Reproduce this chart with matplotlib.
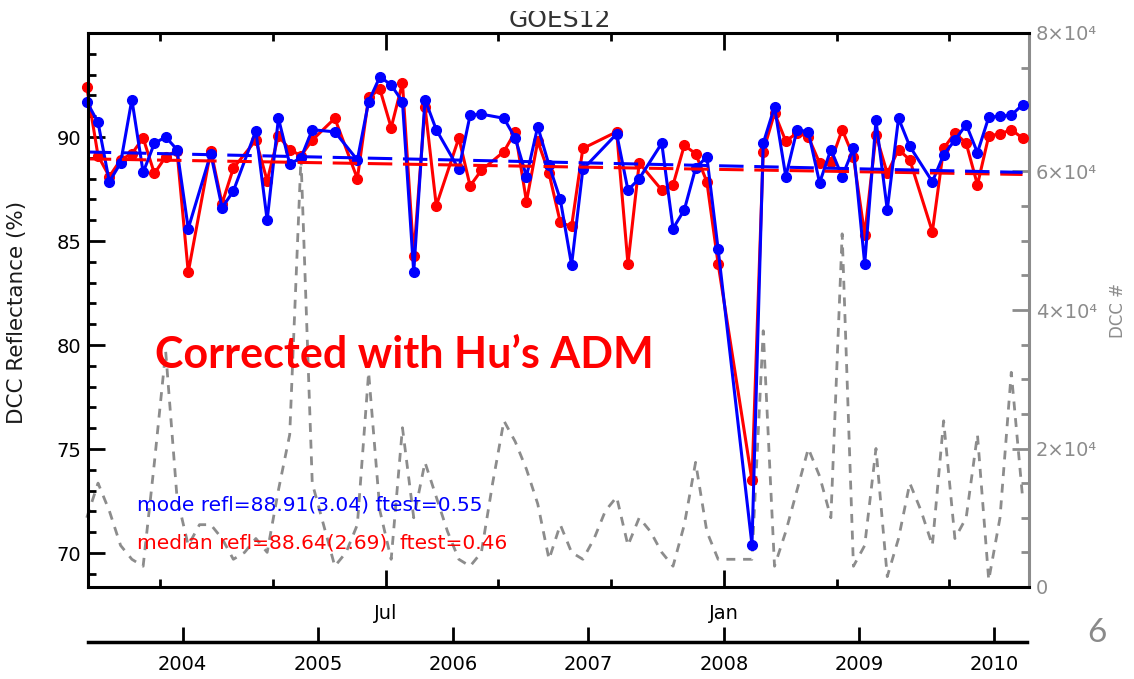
import numpy as np
import matplotlib.pyplot as plt
from matplotlib.transforms import Bbox

nan = np.nan

# monthly samples, Apr 2003 .. Mar 2010 (84 months)
start_year, start_month, n_months = 2003, 4, 84

mode_refl = [91.7, 90.7, 87.85, 88.75, 91.8, 88.3, 89.7, 90.0, 89.4, 85.6,
             nan, 89.2, 86.6, 87.4, nan, 90.3, 86.0, 90.9, 88.7, 89.0,
             90.35, nan, 90.25, nan, 88.9, 91.7, 92.9, 92.5, 91.7, 83.5,
             91.8, 90.35, nan, 88.45, 91.05, 91.1, nan, 90.9, 89.95, 88.1,
             90.5, 88.65, 87.0, 83.85, 88.45, nan, nan, 90.15, 87.45, 88.0,
             nan, 89.7, 85.6, 86.5, 88.5, 89.05, 84.6, nan, nan, 70.4,
             89.7, 91.45, 88.1, 90.35, 90.25, 87.8, 89.4, 88.1, 89.45, 83.9,
             90.8, 86.5, 90.9, 89.55, nan, 87.85, 89.15, 89.85, 90.6, 89.25,
             90.95, 91.0, 91.05, 91.55]

median_refl = [92.4, 89.1, 88.1, 88.9, 89.2, 89.95, 88.25, 89.05, 89.35, 83.5,
               nan, 89.35, 86.8, 88.5, nan, 89.85, 87.9, 90.05, 89.4, 89.1,
               89.85, nan, 90.9, nan, 88.0, 91.9, 92.3, 90.45, 92.6, 84.3,
               91.45, 86.7, nan, 89.95, 87.65, 88.4, nan, 89.3, 90.25, 86.9,
               89.8, 88.25, 85.9, 85.7, 89.45, nan, nan, 90.25, 83.9, 88.75,
               nan, 87.45, 87.7, 89.6, 89.2, 87.85, 83.9, nan, nan, 73.5,
               89.3, 91.15, 89.8, 90.2, 90.0, 88.75, 88.8, 90.35, 89.05, 85.3,
               90.1, 88.25, 89.4, 88.9, nan, 85.45, 89.45, 90.2, 89.7, 87.7,
               90.05, 90.15, 90.35, 89.95]

# number of DCC pixels (x 10^4)
dcc_count = [1.0, 1.5, 1.1, 0.6, 0.4, 0.3, 1.8, 3.4, 1.3, 0.6,
             0.9, 0.9, 0.7, 0.4, 0.5, 0.7, 0.5, 1.4, 2.2, 6.2,
             1.5, 0.9, 0.3, 0.5, 0.9, 3.1, 1.1, 0.4, 2.3, 1.0,
             1.8, 1.3, 0.8, 0.4, 0.3, 0.5, 1.5, 2.4, 2.1, 1.7,
             1.2, 0.4, 0.9, 0.5, 0.4, 0.7, 1.1, 1.3, 0.6, 1.0,
             0.8, 0.5, 0.3, 0.9, 1.8, 0.8, 0.4, 0.4, 0.4, 0.4,
             3.7, 0.3, 0.8, 1.4, 2.0, 1.6, 1.0, 5.1, 0.3, 0.6,
             2.0, 0.15, 0.7, 1.5, 1.1, 0.6, 2.4, 0.7, 1.0, 2.2,
             0.1, 1.0, 3.1, 1.3]

# linear trend end points
mode_trend = [89.28, 88.30]
median_trend = [88.95, 88.20]

mode_text = "mode refl=88.91(3.04) ftest=0.55"
median_text = "median refl=88.64(2.69)  ftest=0.46"

t = start_year + (start_month - 1 + np.arange(n_months) + 0.5) / 12.0
mode_refl = np.array(mode_refl)
median_refl = np.array(median_refl)
dcc_count = np.array(dcc_count) * 1e4

x0, x1 = 2003.303, 2010.256
W, H = 1134, 679
tick_fs = 14

fig = plt.figure(figsize=(W / 100, H / 100), dpi=100)
ax = fig.add_axes([88.3 / W, 1 - 587 / H, (1029 - 88.3) / W, (587 - 33) / H])
ax2 = ax.twinx()
ax.set_zorder(ax2.get_zorder() + 1)
ax.patch.set_visible(False)

gray = '#8c8c8c'
blue = '#0000ff'
red = '#ff0000'

# DCC count on right axis
ax2.plot(t, dcc_count, color=gray, lw=2.0, dashes=(3.2, 2.8), clip_on=False)
ax2.set_ylim(0, 8e4)
ax2.set_yticks([0, 2e4, 4e4, 6e4, 8e4])
ax2.set_yticklabels(['0', '2×10⁴', '4×10⁴', '6×10⁴', '8×10⁴'])
ax2.set_yticks(np.arange(0, 80001, 5000), minor=True)
ax2.tick_params(axis='y', which='both', direction='in', colors=gray,
                labelsize=tick_fs, pad=5, width=2)
ax2.tick_params(axis='y', which='major', length=12)
ax2.tick_params(axis='y', which='minor', length=6)
ax2.set_ylabel('DCC #', color=gray, fontsize=12)
ax2.yaxis.set_label_coords(1.085, 0.5)
for s in ['left', 'top', 'bottom']:
    ax2.spines[s].set_visible(False)
ax2.spines['right'].set_color(gray)
ax2.spines['right'].set_linewidth(2.2)

# reflectance series
mm = ~np.isnan(median_refl)
ax.plot(t[mm], median_refl[mm], '-o', color=red, lw=2.2, ms=7, clip_on=False)
mb = ~np.isnan(mode_refl)
ax.plot(t[mb], mode_refl[mb], '-o', color=blue, lw=2.2, ms=7, clip_on=False)
ax.plot([t[0], t[-1]], median_trend, color=red, lw=2.2, dashes=(8, 3.5))
ax.plot([t[0], t[-1]], mode_trend, color=blue, lw=2.2, dashes=(8, 3.5))

ax.set_xlim(x0, x1)
ax.set_ylim(68.37, 95.0)
ax.set_yticks([70, 75, 80, 85, 90])
ax.set_yticks(np.arange(69, 96, 1), minor=True)

ten_month = 2003 + 10 / 12 + np.arange(8) * 10 / 12
ax.set_xticks([2005.5, 2008.0])
ax.set_xticklabels(['Jul', 'Jan'])
ax.set_xticks(ten_month, minor=True)
ax.tick_params(axis='both', which='both', direction='in', top=True,
               labelsize=tick_fs, width=2)
ax.tick_params(axis='both', which='major', length=12)
ax.tick_params(axis='both', which='minor', length=6)
ax.tick_params(axis='x', pad=12)
ax.tick_params(axis='y', pad=5)
ax.set_ylabel('DCC Reflectance (%)', fontsize=15.5, color='#1a1a1a')
ax.yaxis.set_label_coords(-0.065, 0.496)
for s in ['left', 'top', 'bottom']:
    ax.spines[s].set_linewidth(2.2)
ax.spines['right'].set_visible(False)

ax.text(0.0518, 0.148, mode_text, transform=ax.transAxes, color=blue,
        fontsize=14.5, va='center')
ax.text(0.0518, 0.0794, median_text, transform=ax.transAxes, color=red,
        fontsize=14.5, va='center')
ax.text(0.0709, 0.419, 'Corrected with Hu’s ADM', transform=ax.transAxes,
        color=red, fontsize=31, fontweight='bold', family='Lato', va='center')

# year axis underneath
ax3 = fig.add_axes([88.3 / W, 1 - 642 / H, (1027 - 88.3) / W, 0.0001])
ax3.set_xlim(x0, x1 - (1029 - 1027) / 135.3)
ax3.set_yticks([])
years = [2004, 2005, 2006, 2007, 2008, 2009, 2010]
ax3.set_xticks(years)
ax3.set_xticklabels([str(y) for y in years])
ax3.tick_params(axis='x', direction='in', length=11, width=2,
                labelsize=tick_fs, pad=9)
for s in ['left', 'top', 'right']:
    ax3.spines[s].set_visible(False)
ax3.spines['bottom'].set_linewidth(2.5)
ax3.patch.set_visible(False)

title = fig.text(560 / W, 1 - 27 / H, 'GOES12', ha='center', va='baseline',
                 fontsize=18, color='#333333')
title.set_clip_box(Bbox([[0, 0], [W, H - 11]]))
title.set_clip_on(True)

fig.text(1097 / W, 1 - 633 / H, '6', ha='center', va='center', fontsize=24,
         color='#8a8a8a', family='Lato')

fig.savefig('out.png', dpi=100)
